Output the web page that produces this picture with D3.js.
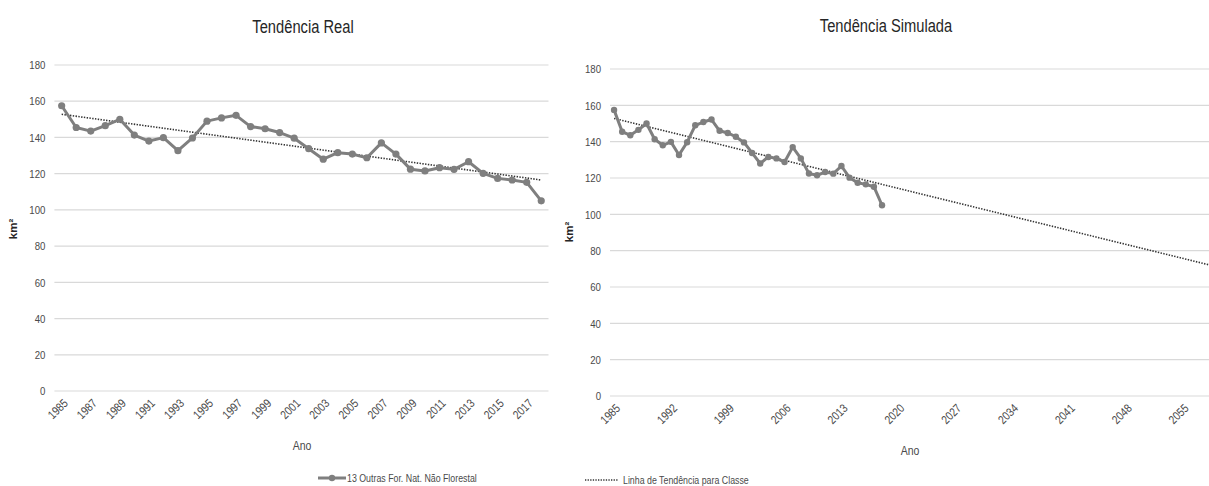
<!DOCTYPE html>
<html>
<head>
<meta charset="utf-8">
<script src="https://cdn.jsdelivr.net/npm/d3@7"></script>
<style>
  html, body { margin: 0; padding: 0; background: #fff; }
  svg { display: block; font-family: "Liberation Sans", Arial, sans-serif; }
</style>
</head>
<body>
<svg id="chart" width="1209" height="486"></svg>
<script>
// Area of class 13 (Outras Formações Naturais Não Florestais), km² per year
const years = d3.range(1985, 2019);
const areaKm2 = [
  157.5, 145.5, 143.5, 146.5, 150.0, 141.3, 138.0, 139.9, 132.7, 139.7,
  149.0, 150.8, 152.2, 146.0, 144.8, 142.7, 139.6, 133.8, 128.0, 131.6,
  130.8, 128.8, 137.0, 130.8, 122.5, 121.5, 123.3, 122.4, 126.6, 120.2,
  117.4, 116.5, 115.2, 105.0
];

// Linear trend line (start / end points)
const trendRealYears = [1985, 2018];
const trendRealValues = [152.8, 116.5];
const trendSimYears = [1985, 2060];
const trendSimValues = [152.8, 70.3];

// Axis categories and ticks
const simYears = d3.range(1985, 2061);
const yTicks = [0, 20, 40, 60, 80, 100, 120, 140, 160, 180];
const realTickYears = d3.range(1985, 2018, 2);
const simTickYears = d3.range(1985, 2060, 7);

const svg = d3.select("#chart");
const gridColor = "#d9d9d9";
const textColor = "#4a4a4a";
const seriesColor = "#7f7f7f";
const trendColor = "#333333";
const NARROW = 0.84; // horizontal squeeze giving a narrow typeface look

function drawPanel(cfg) {
  const g = svg.append("g");
  const x = d3.scaleBand().domain(cfg.categories).range([cfg.left, cfg.right]).padding(0);
  const y = d3.scaleLinear().domain([0, 180]).range([cfg.bottom, cfg.top]);
  const cx = d => x(d) + x.bandwidth() / 2;

  // horizontal gridlines
  g.append("g").selectAll("line").data(yTicks).join("line")
    .attr("x1", cfg.left).attr("x2", cfg.gridRight)
    .attr("y1", d => y(d)).attr("y2", d => y(d))
    .attr("stroke", gridColor).attr("stroke-width", 1.2);

  // y axis labels
  const yAxis = d3.axisLeft(y).tickValues(yTicks).tickSize(0).tickPadding(0);
  const ya = g.append("g").attr("transform", `translate(${cfg.left - 9},0)`).call(yAxis);
  ya.select(".domain").remove();
  ya.selectAll("text").attr("fill", textColor).style("font-size", "11.5px")
    .style("font-family", "inherit").attr("transform", `scale(${NARROW},1)`);

  // x axis labels (rotated)
  g.append("g").selectAll("text").data(cfg.tickYears).join("text")
    .attr("transform", d => `translate(${cx(d) + 4},${cfg.bottom + 10}) rotate(-45) scale(${NARROW},1)`)
    .attr("text-anchor", "end").attr("dy", "0.35em")
    .attr("fill", textColor).style("font-size", "12px")
    .text(d => d);

  // trend line
  const trendPts = cfg.trendYears.map((yr, i) => [cx(yr), y(cfg.trendValues[i])]);
  g.append("path")
    .attr("d", d3.line()(trendPts))
    .attr("fill", "none").attr("stroke", trendColor)
    .attr("stroke-width", 1.6).attr("stroke-dasharray", "1.4,1.4");

  // data series
  const line = d3.line().x((d, i) => cx(years[i])).y(d => y(d));
  g.append("path").datum(areaKm2)
    .attr("d", line).attr("fill", "none")
    .attr("stroke", seriesColor).attr("stroke-width", 3).attr("stroke-linejoin", "round");
  g.append("g").selectAll("circle").data(areaKm2).join("circle")
    .attr("cx", (d, i) => cx(years[i])).attr("cy", d => y(d))
    .attr("r", cfg.markerR).attr("fill", seriesColor);

  // titles
  g.append("text").attr("transform", `translate(${cfg.titleX},${cfg.titleY}) scale(${NARROW},1)`)
    .attr("text-anchor", "middle").attr("fill", "#262626")
    .style("font-size", "17.5px").text(cfg.title);
  g.append("text").attr("transform", `translate(${cfg.anoX},${cfg.anoY}) scale(${NARROW},1)`)
    .attr("text-anchor", "middle").attr("fill", textColor)
    .style("font-size", "12.5px").text("Ano");
  g.append("text")
    .attr("transform", `translate(${cfg.kmX},${cfg.kmY}) rotate(-90)`)
    .attr("text-anchor", "middle").attr("fill", "#262626")
    .style("font-size", "11.5px").style("font-weight", "bold")
    .text("km²");
}

drawPanel({
  categories: years, left: 54.4, right: 548.5, gridRight: 548.5,
  top: 65, bottom: 391, tickYears: realTickYears,
  trendYears: trendRealYears, trendValues: trendRealValues,
  markerR: 3.6, title: "Tendência Real", titleX: 303, titleY: 33,
  anoX: 302, anoY: 450, kmX: 17, kmY: 229
});

drawPanel({
  categories: simYears, left: 610, right: 610 + 76 * 8.12, gridRight: 1209,
  top: 69, bottom: 396, tickYears: simTickYears,
  trendYears: trendSimYears, trendValues: trendSimValues,
  markerR: 3.2, title: "Tendência Simulada", titleX: 886, titleY: 32,
  anoX: 910, anoY: 455, kmX: 573, kmY: 232
});

// legends
const lg1 = svg.append("g");
lg1.append("line").attr("x1", 318).attr("x2", 346).attr("y1", 478).attr("y2", 478)
  .attr("stroke", seriesColor).attr("stroke-width", 3);
lg1.append("circle").attr("cx", 332).attr("cy", 478).attr("r", 3.2).attr("fill", seriesColor);
lg1.append("text").attr("transform", `translate(347,478) scale(${NARROW},1)`).attr("dy", "0.35em")
  .attr("fill", textColor).style("font-size", "10.5px")
  .text("13 Outras For. Nat. Não Florestal");

const lg2 = svg.append("g");
lg2.append("line").attr("x1", 585).attr("x2", 618).attr("y1", 480).attr("y2", 480)
  .attr("stroke", trendColor).attr("stroke-width", 1.4).attr("stroke-dasharray", "1.3,1.3");
lg2.append("text").attr("transform", `translate(623,480) scale(${NARROW},1)`).attr("dy", "0.35em")
  .attr("fill", textColor).style("font-size", "10.5px")
  .text("Linha de Tendência para Classe");
</script>
</body>
</html>
